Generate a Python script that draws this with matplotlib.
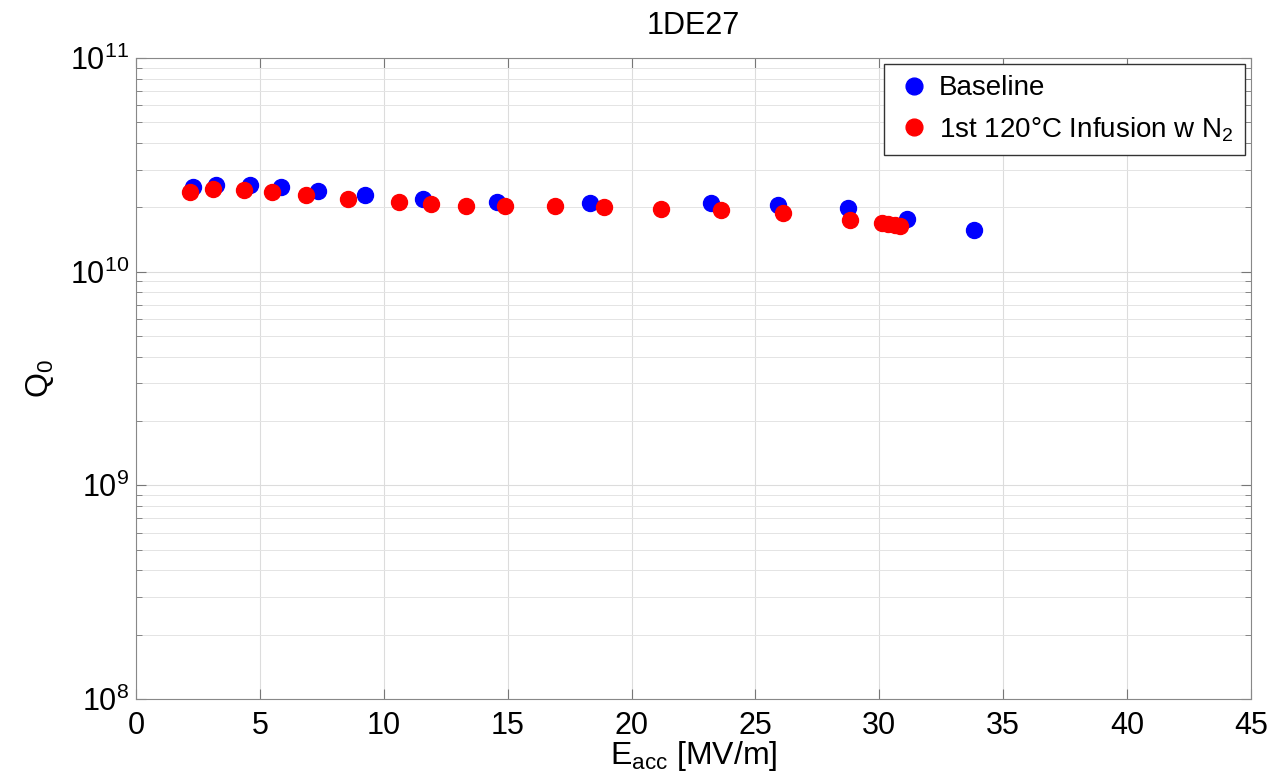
import matplotlib
matplotlib.use('Agg')
import matplotlib.pyplot as plt
from matplotlib.ticker import LogLocator, FixedLocator

plt.rcParams['font.family'] = ['Liberation Sans', 'DejaVu Sans']
plt.rcParams['mathtext.fontset'] = 'custom'
plt.rcParams['mathtext.rm'] = 'Liberation Sans'
plt.rcParams['mathtext.it'] = 'Liberation Sans'

baseline_e = [2.3, 3.23, 4.6, 5.85, 7.34, 9.24, 11.58, 14.57, 18.32, 23.2, 25.91, 28.73, 31.11, 33.82]
baseline_q = [2.48e10, 2.55e10, 2.55e10, 2.48e10, 2.39e10, 2.28e10, 2.18e10, 2.13e10,
              2.10e10, 2.10e10, 2.05e10, 1.98e10, 1.76e10, 1.57e10]

infusion_e = [2.18, 3.12, 4.37, 5.48, 6.86, 8.54, 10.6, 11.9, 13.3, 14.9, 16.91, 18.9,
              21.2, 23.62, 26.1, 28.81, 30.09, 30.36, 30.63, 30.83]
infusion_q = [2.36e10, 2.43e10, 2.41e10, 2.36e10, 2.29e10, 2.19e10, 2.11e10, 2.08e10,
              2.04e10, 2.02e10, 2.02e10, 2.0e10, 1.97e10, 1.95e10, 1.88e10, 1.75e10,
              1.69e10, 1.67e10, 1.65e10, 1.63e10]

fig = plt.figure(figsize=(12.79, 7.81), dpi=100)
ax = fig.add_axes([0.1063, 0.105, 0.8718, 0.8207])

ax.plot(baseline_e, baseline_q, 'o', color='#0000ff', markersize=11.5, label='Baseline', zorder=3)
ax.plot(infusion_e, infusion_q, 'o', color='#ff0000', markersize=11.5,
        label='1st 120°C Infusion w N$_2$', zorder=4)

ax.set_yscale('log')
ax.set_xlim(0, 45)
ax.set_ylim(1e8, 1e11)
ax.xaxis.set_major_locator(FixedLocator(range(0, 46, 5)))
ax.yaxis.set_major_locator(LogLocator(base=10))
ax.yaxis.set_minor_locator(LogLocator(base=10, subs=range(2, 10)))

ax.grid(True, which='major', color='#dcdcdc', linewidth=0.8)
ax.grid(True, which='minor', axis='y', color='#e4e4e4', linewidth=0.7)

ax.tick_params(which='both', direction='in', labelsize=22, color='#777777', top=True, right=True)
ax.tick_params(which='major', length=7)
ax.tick_params(which='minor', length=4)
ax.tick_params(axis='x', pad=9)
ax.tick_params(axis='y', pad=5)
for s in ax.spines.values():
    s.set_color('#888888')

ax.set_xlabel('E$_{\\rm acc}$ [MV/m]', fontsize=23, labelpad=-2)
ax.set_ylabel('Q$_0$', fontsize=23, labelpad=10)
ax.set_title('1DE27', fontsize=22, pad=17)

leg = ax.legend(loc='upper right', fontsize=20, fancybox=False, framealpha=1,
                edgecolor='#333333', handletextpad=0.2, borderaxespad=0.22,
                handlelength=1.4, labelspacing=0.5, markerscale=1.05)
leg.get_frame().set_linewidth(1.0)

fig.savefig('out.png', dpi=100)
